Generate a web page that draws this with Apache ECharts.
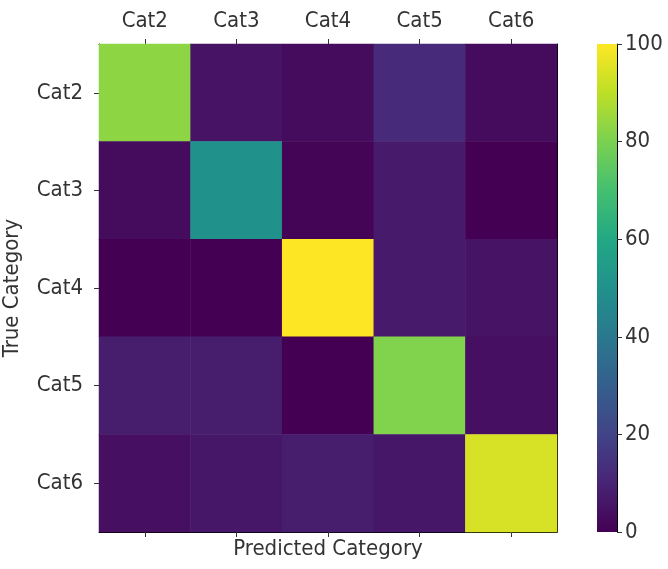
<!DOCTYPE html>
<html>
<head>
<meta charset="utf-8">
<script src="https://cdn.jsdelivr.net/npm/echarts@6/dist/echarts.min.js"></script>
<style>
html, body { margin: 0; padding: 0; background: #fff; }
#chart { width: 668px; height: 569px; }
</style>
</head>
<body>
<div id="chart"></div>
<script>
// categories (same for predicted and true)
const categories = ['Cat2', 'Cat3', 'Cat4', 'Cat5', 'Cat6'];

// one row per true category, values per predicted category
const rowCat2 = [83, 5, 3, 12, 3];
const rowCat3 = [3, 50, 1, 7, 0];
const rowCat4 = [0, 0, 100, 7, 5];
const rowCat5 = [8, 8, 0, 81, 4];
const rowCat6 = [4, 6, 8, 6, 94];

const colorbarTicks = [0, 20, 40, 60, 80, 100];
const viridis = ['#440154', '#482475', '#414487', '#355f8d', '#2a788e', '#21918c',
                 '#22a884', '#44bf70', '#7ad151', '#bddf26', '#fde725'];

// heatmap data [x, y, value]
const rows = [rowCat2, rowCat3, rowCat4, rowCat5, rowCat6];
let cells = [];
rows.forEach(function (row, y) {
    row.forEach(function (v, x) { cells.push([x, y, v]); });
});

// gradient for the colorbar, bottom (0) to top (100)
const barGradient = new echarts.graphic.LinearGradient(0, 1, 0, 0,
    viridis.map(function (c, i) { return { offset: i / (viridis.length - 1), color: c }; }));

const txt = { color: '#333', fontSize: 22, fontFamily: '"DejaVu Sans Condensed", sans-serif' };
const edge = { show: true, onZero: false, lineStyle: { color: '#000', width: 1 } };
const tick = { show: true, alignWithLabel: true, length: 5, lineStyle: { color: '#333' } };

let option = {
    animation: false,
    grid: [
        { left: 99, top: 44, width: 458, height: 488, outerBoundsMode: 'none', containLabel: false },
        { left: 597, top: 44, width: 20, height: 488, outerBoundsMode: 'none', containLabel: false }
    ],
    xAxis: [
        {   // predicted, labels on top
            type: 'category', gridIndex: 0, data: categories, position: 'top',
            axisLine: edge, axisTick: tick,
            axisLabel: Object.assign({ margin: 12 }, txt),
            splitLine: { show: false }
        },
        {   // bottom edge, ticks only
            type: 'category', gridIndex: 0, data: categories, position: 'bottom',
            axisLine: edge, axisTick: tick, axisLabel: { show: false },
            name: 'Predicted Category', nameLocation: 'middle', nameGap: 6,
            nameTextStyle: txt
        },
        {   // colorbar
            type: 'category', gridIndex: 1, data: [''], show: false
        }
    ],
    yAxis: [
        {
            type: 'category', gridIndex: 0, data: categories, inverse: true,
            axisLine: edge, axisTick: tick,
            axisLabel: Object.assign({ margin: 16 }, txt),
            name: 'True Category', nameLocation: 'middle', nameGap: 76, nameRotate: 90,
            nameTextStyle: txt
        },
        {
            type: 'category', gridIndex: 0, data: categories, inverse: true, position: 'right',
            axisLine: edge, axisTick: { show: false }, axisLabel: { show: false }
        },
        {
            type: 'value', gridIndex: 1, min: 0, max: 100, interval: 20, position: 'right',
            axisLine: { show: true, lineStyle: { color: '#000' } },
            axisTick: { show: true, length: 5, lineStyle: { color: '#333' } },
            axisLabel: Object.assign({ margin: 8 }, txt),
            splitLine: { show: false }
        }
    ],
    visualMap: {
        show: false, min: 0, max: 100, seriesIndex: 0,
        inRange: { color: viridis }
    },
    series: [
        {
            type: 'heatmap', xAxisIndex: 0, yAxisIndex: 0, data: cells,
            itemStyle: { borderWidth: 0 }
        },
        {
            type: 'bar', xAxisIndex: 2, yAxisIndex: 2, data: [colorbarTicks[colorbarTicks.length - 1]],
            barWidth: '100%', itemStyle: { color: barGradient }, silent: true
        }
    ]
};

let myChart = echarts.init(document.getElementById('chart'));
myChart.setOption(option);
</script>
</body>
</html>
